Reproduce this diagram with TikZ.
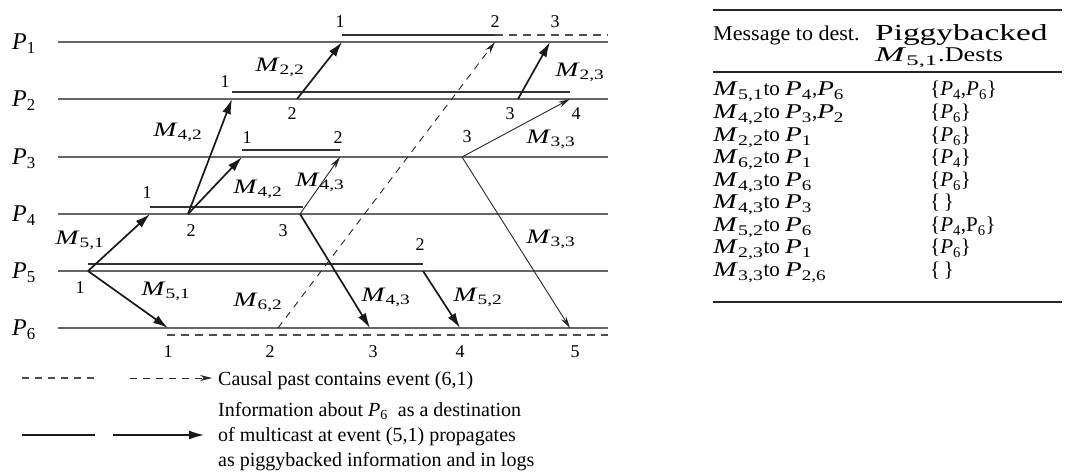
\documentclass[tikz,border=0pt]{standalone}
\usepackage{fontspec}
\usepackage{graphicx}
\setmainfont{Liberation Serif}
\usetikzlibrary{arrows.meta}
\newcommand\Mm[1]{\scalebox{1.35}[1]{\textit{M}\textsubscript{#1}}}
\newcommand\Pp[1]{\textit{P}\textsubscript{#1}}
\newcommand\Pw[1]{\scalebox{1.3}[1]{\textit{P}\textsubscript{#1}}}
\tikzset{
  proc/.style={draw=black!60, line width=1.3pt},
  logline/.style={draw=black!80, line width=2.4pt},
  logdash/.style={draw=black!70, line width=1.3pt, dash pattern=on 8pt off 6pt},
  msg/.style={draw=black!90, line width=1.7pt, -{Latex[length=15pt,width=9pt]}},
  thinmsg/.style={draw=black!85, line width=0.9pt, -{Stealth[length=12pt,width=6pt]}},
  causal/.style={draw=black!85, line width=0.9pt, dash pattern=on 7pt off 6pt, -{Stealth[length=12pt,width=6pt]}},
  plabel/.style={font=\fontsize{24}{28}\selectfont, inner sep=0, anchor=base west},
  num/.style={font=\fontsize{18}{22}\selectfont, inner sep=0},
  mlabel/.style={font=\fontsize{20.5}{24}\selectfont, inner sep=0},
  legtext/.style={font=\fontsize{20}{24}\selectfont, inner sep=0, anchor=base west},
  tabtext/.style={font=\fontsize{21}{24}\selectfont, inner sep=0, anchor=base west},
  rule/.style={draw=black!85, line width=2.2pt}
}
\begin{document}
\begin{tikzpicture}[x=1pt,y=-1pt]
\useasboundingbox (0,0) rectangle (1072,473);
% process lines
\foreach \i/\yy in {1/42,2/99,3/157,4/214,5/271,6/328}{
  \coordinate (P\i s) at (58,\yy);
  \coordinate (P\i e) at (608,\yy);
  \draw[proc] (P\i s) -- (P\i e);
  \node[plabel] (lab\i) at (12,\yy+8) {\Pp{\i}};
}
% log lines
\coordinate (L1a) at (342,35); \coordinate (L1b) at (495,35); \coordinate (L1c) at (608,35);
\draw[logline] (L1a) -- (L1b);
\draw[logdash] (L1b) -- (L1c);
\coordinate (L2a) at (232,92); \coordinate (L2b) at (570,92);
\draw[logline] (L2a) -- (L2b);
\coordinate (L3a) at (242,150); \coordinate (L3b) at (340,150);
\draw[logline] (L3a) -- (L3b);
\coordinate (L4a) at (150,207); \coordinate (L4b) at (303,207);
\draw[logline] (L4a) -- (L4b);
\coordinate (L5a) at (88,264); \coordinate (L5b) at (423,264);
\draw[logline] (L5a) -- (L5b);
\coordinate (L6a) at (167,335); \coordinate (L6b) at (608,335);
\draw[logdash] (L6a) -- (L6b);
% events
\coordinate (e11) at (342,42); \coordinate (e12) at (495,42); \coordinate (e13) at (550,42);
\coordinate (e21) at (232,99); \coordinate (e22) at (297,99); \coordinate (e23) at (518,99); \coordinate (e24) at (570,99);
\coordinate (e31) at (242,157); \coordinate (e32) at (340,157); \coordinate (e33) at (462,157);
\coordinate (e41) at (150,214); \coordinate (e42) at (188,214); \coordinate (e43) at (300,214);
\coordinate (e51) at (88,271); \coordinate (e52) at (423,271);
\coordinate (e61) at (168,328); \coordinate (e62) at (278,328); \coordinate (e63) at (370,328); \coordinate (e64) at (460,328); \coordinate (e65) at (570,328);
% messages
\draw[msg] (e51) -- (e41);
\draw[msg] (e51) -- (e61);
\draw[msg] (e42) -- (e21);
\draw[msg] (e42) -- (e31);
\draw[thinmsg] (e43) -- (e32);
\draw[msg] (e43) -- (e63);
\draw[msg] (e52) -- (e64);
\draw[msg] (e22) -- (e11);
\draw[msg] (e23) -- (e13);
\draw[causal] (e62) -- (e12);
\draw[thinmsg] (e33) -- (e24);
\draw[thinmsg] (e33) -- (e65);
% event numbers
\node[num] (n51) at (80,288) {1};
\node[num] (n41) at (147,193) {1};
\node[num] (n42) at (191,231) {2};
\node[num] (n43) at (283,231) {3};
\node[num] (n31) at (247,138) {1};
\node[num] (n32) at (338,138) {2};
\node[num] (n33) at (467,137) {3};
\node[num] (n21) at (225,82) {1};
\node[num] (n22) at (292,114) {2};
\node[num] (n23) at (510,114) {3};
\node[num] (n24) at (576,114) {4};
\node[num] (n11) at (340,22) {1};
\node[num] (n12) at (495,22) {2};
\node[num] (n13) at (555,22) {3};
\node[num] (n52) at (420,245) {2};
\node[num] (n61) at (168,352) {1};
\node[num] (n62) at (270,352) {2};
\node[num] (n63) at (373,352) {3};
\node[num] (n64) at (460,352) {4};
\node[num] (n65) at (575,352) {5};
% message labels
\node[mlabel] (m51a) at (80,240) {\Mm{5,1}};
\node[mlabel] (m51b) at (166,291) {\Mm{5,1}};
\node[mlabel] (m42a) at (178,132) {\Mm{4,2}};
\node[mlabel] (m42b) at (258,189) {\Mm{4,2}};
\node[mlabel] (m43a) at (320,182) {\Mm{4,3}};
\node[mlabel] (m43b) at (386,297) {\Mm{4,3}};
\node[mlabel] (m52) at (478,297) {\Mm{5,2}};
\node[mlabel] (m62) at (258,302) {\Mm{6,2}};
\node[mlabel] (m22) at (280,67) {\Mm{2,2}};
\node[mlabel] (m23) at (580,72) {\Mm{2,3}};
\node[mlabel] (m33a) at (551,139) {\Mm{3,3}};
\node[mlabel] (m33b) at (551,239) {\Mm{3,3}};
% legend
\coordinate (d1a) at (22,378); \coordinate (d1b) at (100,378);
\coordinate (d2a) at (130,378); \coordinate (d2b) at (212,378);
\draw[logdash, dash pattern=on 7pt off 6pt] (d1a) -- (d1b);
\draw[causal] (d2a) -- (d2b);
\coordinate (s1a) at (22,435); \coordinate (s1b) at (95,435);
\coordinate (s2a) at (113,435); \coordinate (s2b) at (204,435);
\draw[draw=black!90, line width=1.5pt] (s1a) -- (s1b);
\draw[msg, line width=1.5pt] (s2a) -- (s2b);
\node[legtext] (t1) at (218,385) {Causal past contains event (6,1)};
\node[legtext] (t2) at (218,416) {Information about \Pp{6}\ \ as a destination};
\node[legtext] (t3) at (218,441) {of multicast at event (5,1) propagates};
\node[legtext] (t4) at (218,466) {as piggybacked information and in logs};
% table
\coordinate (r1a) at (713,10); \coordinate (r1b) at (1062,10);
\coordinate (r2a) at (713,72); \coordinate (r2b) at (1062,72);
\coordinate (r3a) at (713,302); \coordinate (r3b) at (1062,302);
\draw[rule] (r1a) -- (r1b);
\draw[rule] (r2a) -- (r2b);
\draw[rule] (r3a) -- (r3b);
\node[tabtext] (h1) at (713,41) {\scalebox{1.05}[1]{Message to dest.}};
\node[tabtext, font=\fontsize{23}{26}\selectfont] (h2) at (875,41) {\scalebox{1.45}[1]{Piggybacked}};
\node[tabtext] (h3) at (875,62) {\scalebox{1.25}[1]{\Mm{5,1}.Dests}};
\node[tabtext] (a1) at (713,96) {\Mm{5,1}to \Pw{4},\Pw{6}};
\node[tabtext] (b1) at (930,96) {\{\Pp{4},\Pp{6}\}};
\node[tabtext] (a2) at (713,119) {\Mm{4,2}to \Pw{3},\Pw{2}};
\node[tabtext] (b2) at (930,119) {\{\Pp{6}\}};
\node[tabtext] (a3) at (713,142) {\Mm{2,2}to \Pw{1}};
\node[tabtext] (b3) at (930,142) {\{\Pp{6}\}};
\node[tabtext] (a4) at (713,164) {\Mm{6,2}to \Pw{1}};
\node[tabtext] (b4) at (930,164) {\{\Pp{4}\}};
\node[tabtext] (a5) at (713,187) {\Mm{4,3}to \Pw{6}};
\node[tabtext] (b5) at (930,187) {\{\Pp{6}\}};
\node[tabtext] (a6) at (713,209) {\Mm{4,3}to \Pw{3}};
\node[tabtext] (b6) at (930,209) {\{\,\}};
\node[tabtext] (a7) at (713,232) {\Mm{5,2}to \Pw{6}};
\node[tabtext] (b7) at (930,232) {\{\Pp{4},P\textsubscript{6}\}};
\node[tabtext] (a8) at (713,254) {\Mm{2,3}to \Pw{1}};
\node[tabtext] (b8) at (930,254) {\{\Pp{6}\}};
\node[tabtext] (a9) at (713,277) {\Mm{3,3}to \Pw{2,6}};
\node[tabtext] (b9) at (930,277) {\{\,\}};
\end{tikzpicture}
\end{document}
